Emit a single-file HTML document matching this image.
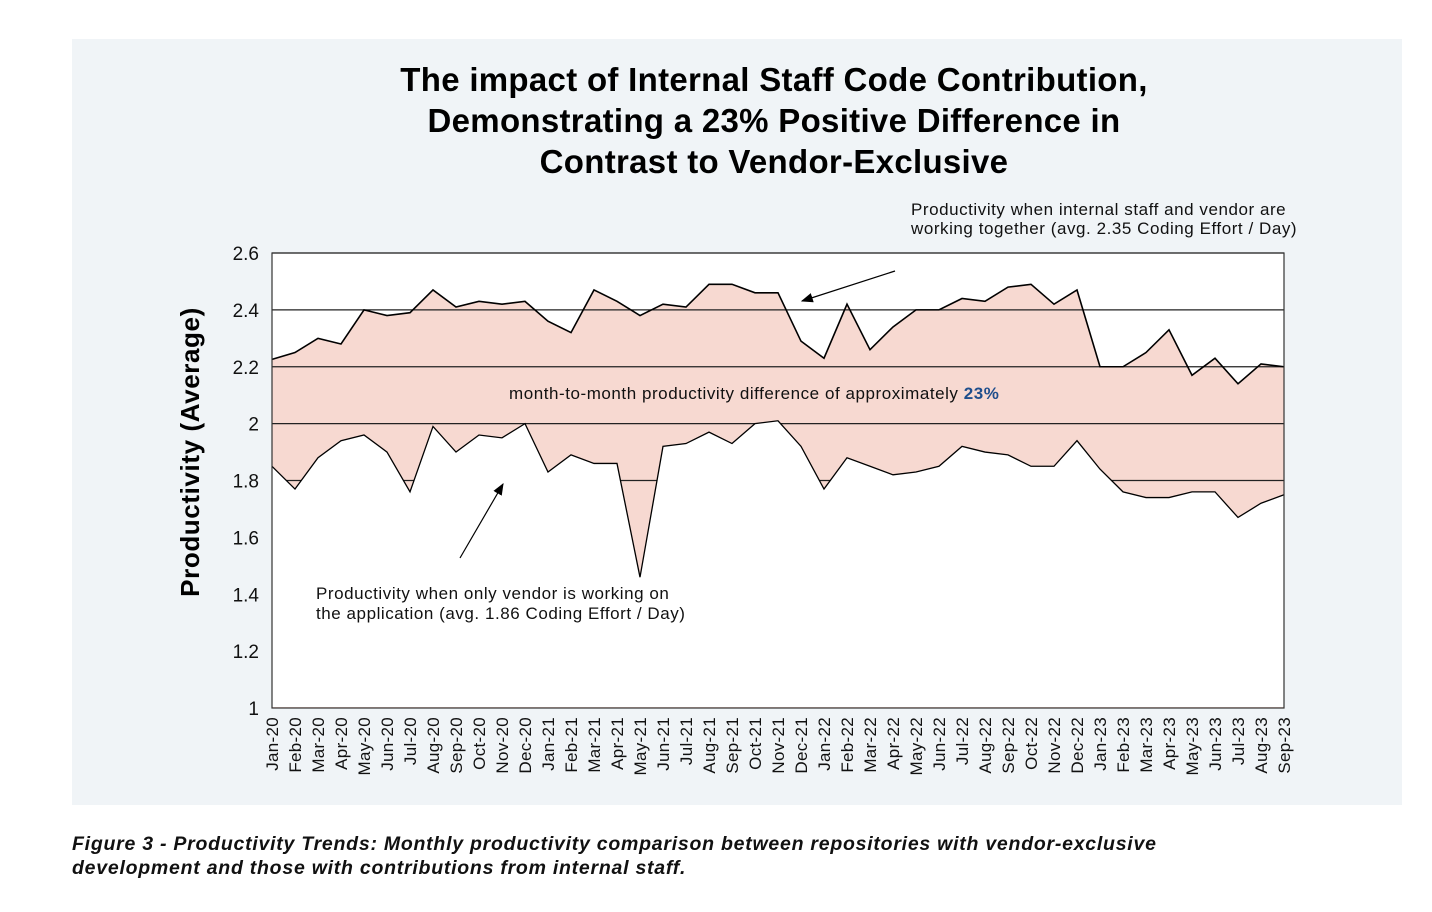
<!DOCTYPE html>
<html><head><meta charset="utf-8"><style>
body{margin:0;background:#fff;width:1432px;height:912px;overflow:hidden;font-family:"Liberation Sans",sans-serif}
#panel{position:absolute;left:72px;top:39px;width:1330px;height:766px;background:#f0f4f7}
#title{position:absolute;left:290px;width:968px;top:59px;text-align:center;font-weight:bold;font-size:33px;line-height:41px;color:#000;letter-spacing:0.3px}
#caption{position:absolute;left:72px;top:832px;font-style:italic;font-weight:bold;font-size:19.5px;line-height:24px;color:#111;letter-spacing:0.75px;white-space:nowrap}
svg{position:absolute;left:0;top:0}
</style></head><body>
<div id="panel"></div>
<div id="title">The impact of Internal Staff Code Contribution,<br>Demonstrating a 23% Positive Difference in<br>Contrast to Vendor-Exclusive</div>
<svg id="chart" width="1432" height="912"></svg>
<div id="caption">Figure 3 - Productivity Trends: Monthly productivity comparison between repositories with vendor-exclusive<br>development and those with contributions from internal staff.</div>
<script>
const months=["Jan-20","Feb-20","Mar-20","Apr-20","May-20","Jun-20","Jul-20","Aug-20","Sep-20","Oct-20","Nov-20","Dec-20","Jan-21","Feb-21","Mar-21","Apr-21","May-21","Jun-21","Jul-21","Aug-21","Sep-21","Oct-21","Nov-21","Dec-21","Jan-22","Feb-22","Mar-22","Apr-22","May-22","Jun-22","Jul-22","Aug-22","Sep-22","Oct-22","Nov-22","Dec-22","Jan-23","Feb-23","Mar-23","Apr-23","May-23","Jun-23","Jul-23","Aug-23","Sep-23"];
const internalValues=[2.226,2.25,2.30,2.28,2.40,2.38,2.39,2.47,2.41,2.43,2.42,2.43,2.36,2.32,2.47,2.43,2.38,2.42,2.41,2.49,2.49,2.46,2.46,2.29,2.23,2.42,2.26,2.34,2.40,2.40,2.44,2.43,2.48,2.49,2.42,2.47,2.20,2.20,2.25,2.33,2.17,2.23,2.14,2.21,2.20];
const vendorValues=[1.85,1.77,1.88,1.94,1.96,1.90,1.76,1.99,1.90,1.96,1.95,2.00,1.83,1.89,1.86,1.86,1.46,1.92,1.93,1.97,1.93,2.00,2.01,1.92,1.77,1.88,1.85,1.82,1.83,1.85,1.92,1.90,1.89,1.85,1.85,1.94,1.84,1.76,1.74,1.74,1.76,1.76,1.67,1.72,1.75];
const yTicks=[1,1.2,1.4,1.6,1.8,2,2.2,2.4,2.6];
const L=272,R=1284,T=253,B=708,yMin=1,yMax=2.6;
const x=i=>L+i*(R-L)/(months.length-1);
const y=v=>B-(v-yMin)/(yMax-yMin)*(B-T);
const svg=document.getElementById('chart');const NS='http://www.w3.org/2000/svg';
function mk(t,a,p){const e=document.createElementNS(NS,t);for(const k in a)e.setAttribute(k,a[k]);(p||svg).appendChild(e);return e;}
const bg=mk('rect',{x:L,y:T,width:R-L,height:B-T,fill:'#fff'});


const up=internalValues.map((v,i)=>x(i)+','+y(v)).join(' ');
const lo=vendorValues.map((v,i)=>x(i)+','+y(v)).join(' ');
const pink=mk('polygon',{points:up+' '+R+','+B+' '+L+','+B,fill:'#f7d9d1'});


yTicks.forEach(t=>{
 if(t>=1.8){
 const g=mk('line',{x1:L,x2:R,y1:y(t),y2:y(t),stroke:'#222','stroke-width':1.2});
 
 
 }
 const tx=mk('text',{x:259,y:y(t)+7,'text-anchor':'end','font-size':19,fill:'#111'});
 tx.textContent=t;
 
 
});
const wh=mk('polygon',{points:lo+' '+R+','+(B-1)+' '+L+','+(B-1),fill:'#fff'});


const l1=mk('polyline',{points:up,fill:'none',stroke:'#000','stroke-width':1.6});


const l2=mk('polyline',{points:lo,fill:'none',stroke:'#000','stroke-width':1.3});


const fr=mk('rect',{x:L,y:T,width:R-L,height:B-T,fill:'none',stroke:'#333','stroke-width':1.2});


months.forEach((m,i)=>{
 const tx=mk('text',{transform:`translate(${x(i)+6},717) rotate(-90)`,'text-anchor':'end','font-size':17,fill:'#111','letter-spacing':0.3});
 tx.textContent=m;
 
 
});
const yt=mk('text',{transform:'translate(199,452) rotate(-90)','text-anchor':'middle','font-size':26,'font-weight':'bold',fill:'#000','letter-spacing':0.6});
yt.textContent='Productivity (Average)';


function txt(s,xx,yy,name,fs){const t=mk('text',{x:xx,y:yy,'font-size':fs||17,fill:'#111','letter-spacing':0.55});t.innerHTML=s;return t;}
txt('Productivity when internal staff and vendor are',911,215,'internal-annotation');
txt('working together (avg. 2.35 Coding Effort / Day)',911,234,'internal-annotation-line2');
txt('month-to-month productivity difference of approximately <tspan font-weight="bold" fill="#1f4e8c">23%</tspan>',509,399,'difference-annotation');
txt('Productivity when only vendor is working on',316,599,'vendor-annotation');
txt('the application (avg. 1.86 Coding Effort / Day)',316,619,'vendor-annotation-line2');
mk('defs',{}).innerHTML='<marker id="ah" markerWidth="10" markerHeight="8" refX="9" refY="4" orient="auto"><path d="M0,0 L10,4 L0,8 z" fill="#000"/></marker>';
const a1=mk('line',{x1:895,y1:271,x2:802,y2:301,stroke:'#000','stroke-width':1.2,'marker-end':'url(#ah)'});


const a2=mk('line',{x1:460,y1:558,x2:503,y2:484,stroke:'#000','stroke-width':1.2,'marker-end':'url(#ah)'});


</script>
</body></html>
